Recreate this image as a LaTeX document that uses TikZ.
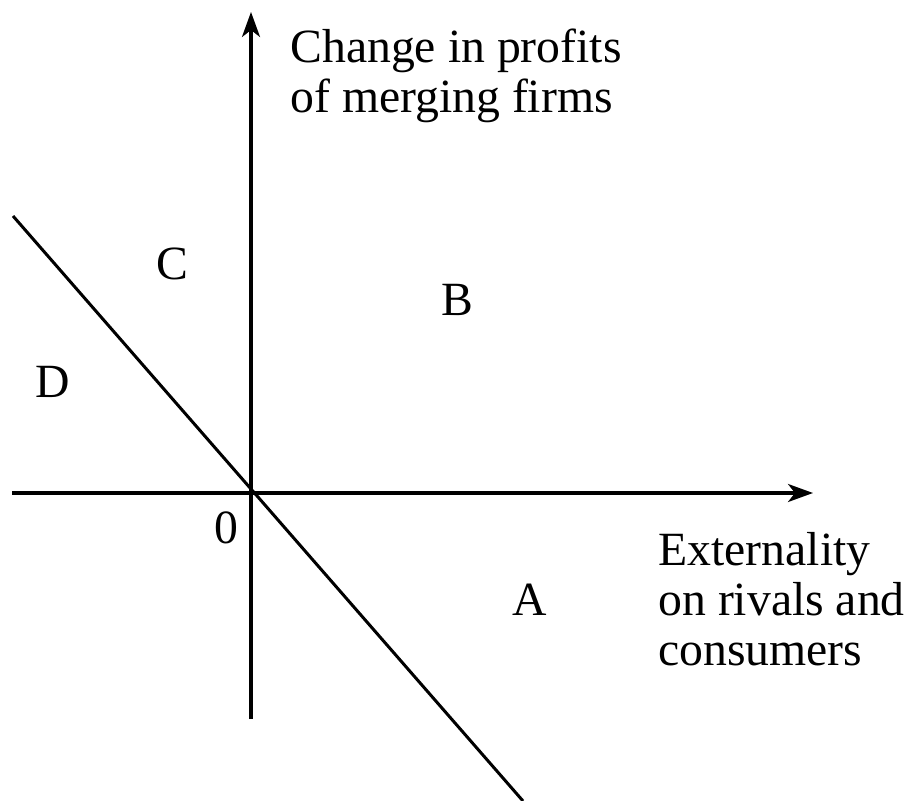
\documentclass[tikz,border=0pt]{standalone}
\usepackage{fontspec}
\setmainfont{Liberation Serif}
\usetikzlibrary{arrows.meta}
\begin{document}
\begin{tikzpicture}[x=0.5pt,y=-0.5pt,
  axis/.style={line width=1.6pt,-{Stealth[length=12.5pt,width=9pt,inset=3.5pt]}},
  diag/.style={line width=1.5pt},
  lab/.style={inner sep=0pt,anchor=base,font=\fontsize{23.85}{25}\selectfont},
  txt/.style={inner sep=0pt,anchor=base west,font=\fontsize{23.85}{25}\selectfont}]
\useasboundingbox (0,0) rectangle (909,801);
\coordinate (ybot) at (251,719);
\coordinate (ytop) at (251,12);
\coordinate (xleft) at (12,493);
\coordinate (xright) at (813,493);
\coordinate (dstart) at (13,216);
\coordinate (dend) at (523,801);
\draw[axis] (ybot) -- (ytop);
\draw[axis] (xleft) -- (xright);
\draw[diag] (dstart) -- (dend);
\node[txt] (yl1) at (290,63) {Change in profits};
\node[txt] (yl2) at (290,113) {of merging firms};
\node[txt] (xl1) at (658,565) {Externality};
\node[txt] (xl2) at (658,615) {on rivals and};
\node[txt] (xl3) at (658,665) {consumers};
\node[lab] (C) at (172,280) {C};
\node[lab] (B) at (457,316) {B};
\node[lab] (D) at (53,398) {D};
\node[lab] (A) at (530,615) {A};
\node[lab] (zero) at (226,543) {0};
\end{tikzpicture}
\end{document}
